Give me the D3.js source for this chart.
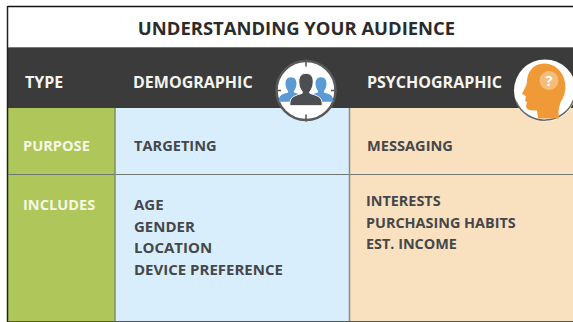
<!DOCTYPE html>
<html>
<head>
<meta charset="utf-8">
<script src="https://cdn.jsdelivr.net/npm/d3@7"></script>
<style>
html, body { margin: 0; padding: 0; background: #fff; }
svg { display: block; }
text { font-family: "Open Sans", sans-serif; font-weight: 700; }
</style>
</head>
<body>
<div id="chart"></div>
<script>
var width = 573, height = 322;

var title = 'UNDERSTANDING YOUR AUDIENCE';
var columns = ['label', 'demographic', 'psychographic'];
var columnHeads = ['TYPE', 'DEMOGRAPHIC', 'PSYCHOGRAPHIC'];
var rowNames = ['head', 'purpose', 'includes'];
var rowLabels = ['PURPOSE', 'INCLUDES'];
var purposeItems = ['TARGETING', 'MESSAGING'];
var demographicItems = ['AGE', 'GENDER', 'LOCATION', 'DEVICE PREFERENCE'];
var psychographicItems = ['INTERESTS', 'PURCHASING HABITS', 'EST. INCOME'];

// column and row edges
var colX = d3.scaleOrdinal().domain(columns).range([8, 115, 350]);
var colEnd = d3.scaleOrdinal().domain(columns).range([115, 350, 573]);
var rowY = d3.scaleOrdinal().domain(rowNames).range([48, 108, 175]);
var rowEnd = d3.scaleOrdinal().domain(rowNames).range([108, 175, 321]);
var fills = d3.scaleOrdinal().domain(columns).range(['#afc65a', '#d9eefc', '#f9e1c0']);

var svg = d3.select('#chart').append('svg')
    .attr('width', width)
    .attr('height', height);

svg.append('rect').attr('width', width).attr('height', height).attr('fill', '#fff');

// body cells
svg.append('g').selectAll('rect')
    .data(columns)
    .enter()
    .append('rect')
    .attr('x', d => colX(d))
    .attr('y', rowY('purpose'))
    .attr('width', d => colEnd(d) - colX(d))
    .attr('height', rowEnd('includes') - rowY('purpose'))
    .attr('fill', d => fills(d));

// dark header band
svg.append('rect')
    .attr('x', 8)
    .attr('y', rowY('head'))
    .attr('width', width - 8)
    .attr('height', rowEnd('head') - rowY('head'))
    .attr('fill', '#3b3b3b');

// grid lines
var lines = svg.append('g').attr('stroke-width', 1.2);
lines.append('line').attr('x1', 7.5).attr('x2', width).attr('y1', 6.5).attr('y2', 6.5).attr('stroke', '#111').attr('stroke-width', 1.5);
lines.append('line').attr('x1', 7.5).attr('x2', 7.5).attr('y1', 6).attr('y2', 322).attr('stroke', '#222').attr('stroke-width', 1.5);
lines.append('line').attr('x1', 8).attr('x2', width).attr('y1', 47.5).attr('y2', 47.5).attr('stroke', '#777');
lines.append('line').attr('x1', 8).attr('x2', width).attr('y1', 174.5).attr('y2', 174.5).attr('stroke', '#6f7770');
lines.append('line').attr('x1', 8).attr('x2', width).attr('y1', 321.5).attr('y2', 321.5).attr('stroke', '#555');
lines.append('line').attr('x1', 115).attr('x2', 115).attr('y1', 108).attr('y2', 321).attr('stroke', '#7e9058').attr('stroke-width', 1.5);
lines.append('line').attr('x1', 349.5).attr('x2', 349.5).attr('y1', 108).attr('y2', 321).attr('stroke', '#858c90').attr('stroke-width', 1.5);

// title
svg.append('text')
    .attr('x', 296.5)
    .attr('y', 35)
    .attr('text-anchor', 'middle')
    .attr('font-size', 18.45)
    .attr('fill', '#2b2b2b')
    .text(title);

// header labels
var headX = [25, 133, 367];
svg.append('g').selectAll('text')
    .data(columnHeads)
    .enter()
    .append('text')
    .attr('x', (d, i) => headX[i])
    .attr('y', 88)
    .attr('font-size', 16)
    .attr('fill', '#f4f4f0')
    .text(d => d);

// left column labels
var labelY = [151, 210];
svg.append('g').selectAll('text')
    .data(rowLabels)
    .enter()
    .append('text')
    .attr('x', 23)
    .attr('y', (d, i) => labelY[i])
    .attr('font-size', 14.6)
    .attr('fill', '#f5f6e6')
    .text(d => d);

var ink = '#46474a';

svg.append('g').selectAll('text')
    .data(purposeItems)
    .enter()
    .append('text')
    .attr('x', (d, i) => [134, 367][i])
    .attr('y', 151)
    .attr('font-size', 14.6)
    .attr('fill', ink)
    .text(d => d);

svg.append('g').selectAll('text')
    .data(demographicItems)
    .enter()
    .append('text')
    .attr('x', 134)
    .attr('y', (d, i) => 210 + i * 21.6)
    .attr('font-size', 15)
    .attr('fill', ink)
    .text(d => d);

svg.append('g').selectAll('text')
    .data(psychographicItems)
    .enter()
    .append('text')
    .attr('x', 366)
    .attr('y', (d, i) => 206 + i * 21.5)
    .attr('font-size', 14.4)
    .attr('fill', ink)
    .text(d => d);

// audience target icon
var target = svg.append('g').attr('transform', 'translate(306,90.5)');
target.append('circle').attr('r', 29.5).attr('fill', '#fff').attr('stroke', '#5a5a5a').attr('stroke-width', 2.5);
[[0, -31, 0, -24], [0, 24, 0, 31], [-31, 0, -25, 0], [25, 0, 31, 0]].forEach(function (p) {
    target.append('line').attr('x1', p[0]).attr('y1', p[1]).attr('x2', p[2]).attr('y2', p[3])
        .attr('stroke', '#5a5a5a').attr('stroke-width', 1.6);
});
var person = 'M0,-17 C-6,-17 -8,-12 -7.5,-7 C-7.2,-3 -6,0 -4,2 L-4,4 C-10,6 -17,7 -17,15 L-17,17 L17,17 L17,15 C17,7 10,6 4,4 L4,2 C6,0 7.2,-3 7.5,-7 C8,-12 6,-17 0,-17 Z';
target.append('path').attr('d', person).attr('fill', '#5b9bd5').attr('transform', 'translate(-15,-1) scale(0.72)');
target.append('path').attr('d', person).attr('fill', '#5b9bd5').attr('transform', 'translate(15,-1) scale(0.72)');
target.append('path').attr('d', person).attr('fill', '#4d4e51').attr('stroke', '#fff').attr('stroke-width', 1).attr('transform', 'translate(0,-1) scale(0.95)');

// head icon
var head = svg.append('g').attr('transform', 'translate(545,90.5)');
head.append('circle').attr('r', 31).attr('fill', '#fff');
head.append('path')
    .attr('d', 'M29,8 A31,31 0 0 1 -29,11')
    .attr('fill', 'none')
    .attr('stroke', '#666')
    .attr('stroke-width', 1.5);
head.append('path')
    .attr('d', 'M-1,-27 C-12,-27 -18,-18 -18,-9 C-18,-5 -21,-1 -23,3 L-19,6 L-20,10 L-18,12 L-19,15 C-19,20 -14,20 -8,20 L-7,28 L14,28 C13,20 14,16 16,11 C20,5 21,-2 20,-8 C18,-20 9,-27 -1,-27 Z')
    .attr('fill', '#ef9a37');
head.append('circle').attr('cx', 4).attr('cy', -10).attr('r', 9.5).attr('fill', '#f4bd7c');
head.append('text')
    .attr('x', 4)
    .attr('y', -4.5)
    .attr('text-anchor', 'middle')
    .attr('font-size', 15)
    .attr('fill', '#fff')
    .text('?');
</script>
</body>
</html>
